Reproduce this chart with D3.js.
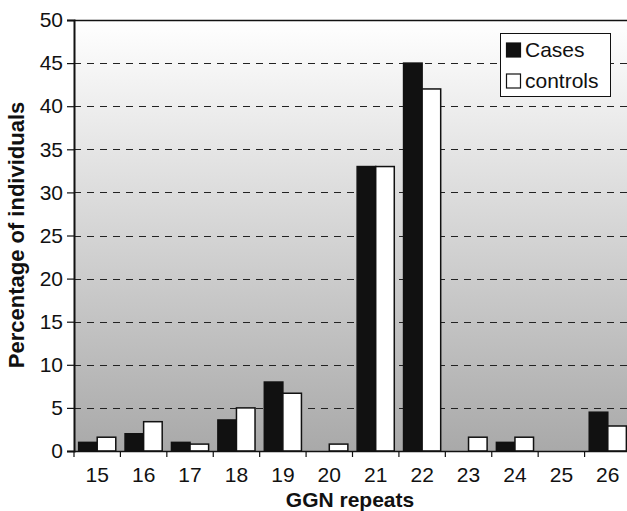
<!DOCTYPE html>
<html><head><meta charset="utf-8">
<script src="https://cdn.jsdelivr.net/npm/d3@7/dist/d3.min.js"></script>
<style>body{margin:0;background:#fff}svg{display:block}text{font-family:"Liberation Sans",Arial,sans-serif}</style>
</head><body>
<svg id="c" width="627" height="511"></svg>
<script>
const categories = ["15","16","17","18","19","20","21","22","23","24","25","26"];
const cases    = [1.0, 2.0, 1.0, 3.6, 8.0, 0, 33, 45, 0, 1.0, 0, 4.5];
const controls = [1.6, 3.4, 0.8, 5.0, 6.7, 0.8, 33, 42, 1.6, 1.6, 0, 2.9];
const seriesNames = ["Cases", "controls"];
const yTicks = [0,5,10,15,20,25,30,35,40,45,50];

(function(){
const svg = d3.select("#c");
const pL = 74, pR = 631, pT = 20, pB = 451;
const FS = 21;
const FF = "'Liberation Sans', Arial, sans-serif";
const x = d3.scaleBand().domain(categories).range([pL, pR]).paddingInner(0).paddingOuter(0);
const y = d3.scaleLinear().domain([0, 50]).range([pB, pT]);

const defs = svg.append("defs");
const g = defs.append("linearGradient").attr("id","bg").attr("x1",0).attr("y1",0).attr("x2",0).attr("y2",1);
g.append("stop").attr("offset","0%").attr("stop-color","#ffffff");
g.append("stop").attr("offset","100%").attr("stop-color","#a9a9a9");

svg.append("rect").attr("x",pL).attr("y",pT).attr("width",pR-pL).attr("height",pB-pT).attr("fill","url(#bg)");

// gridlines
svg.append("g").selectAll("line").data(yTicks.filter(d=>d>0 && d<50)).join("line")
  .attr("x1",pL).attr("x2",pR).attr("y1",d=>Math.round(y(d))+0.5).attr("y2",d=>Math.round(y(d))+0.5)
  .attr("stroke","#222").attr("stroke-width",1.2).attr("stroke-dasharray","7,6");

// top border
svg.append("line").attr("x1",pL).attr("x2",pR).attr("y1",pT+0.5).attr("y2",pT+0.5).attr("stroke","#111").attr("stroke-width",1.5);

// bars
const sub = d3.scaleBand().domain(seriesNames).range([0, x.bandwidth()]).paddingOuter(0.25).paddingInner(0);
const data = categories.map((c,i)=>({c, vals:[{s:"Cases",v:cases[i]},{s:"controls",v:controls[i]}]}));
const grp = svg.append("g").selectAll("g").data(data).join("g").attr("transform",d=>`translate(${x(d.c)},0)`);
grp.selectAll("rect").data(d=>d.vals.filter(v=>v.v>0)).join("rect")
  .attr("x",d=>sub(d.s)).attr("width",sub.bandwidth())
  .attr("y",d=>y(d.v)).attr("height",d=>y(0)-y(d.v))
  .attr("fill",d=>d.s==="Cases"?"#111":"#fff").attr("stroke","#111").attr("stroke-width",1.5);

// axes
const yAxis = d3.axisLeft(y).tickValues(yTicks).tickSize(7).tickPadding(4);
const ya = svg.append("g").attr("transform",`translate(${pL},0)`).call(yAxis);
ya.select(".domain").attr("stroke","#111").attr("stroke-width",2);
ya.selectAll(".tick line").attr("stroke","#111").attr("stroke-width",1.2);
ya.selectAll("text").attr("font-size",FS).attr("fill","#111").style("font-family",FF);

const xa = svg.append("g").attr("transform",`translate(0,${pB})`).call(d3.axisBottom(x).tickSize(0).tickPadding(16));
xa.select(".domain").attr("stroke","#111").attr("stroke-width",1.5);
xa.selectAll("text").attr("font-size",FS).attr("fill","#111").style("font-family",FF);
// boundary ticks
svg.append("g").selectAll("line").data(categories).join("line")
  .attr("x1",d=>x(d)).attr("x2",d=>x(d)).attr("y1",pB).attr("y2",pB+6)
  .attr("stroke","#111").attr("stroke-width",1.2);

// titles
svg.append("text").attr("x",350).attr("y",507).attr("text-anchor","middle").style("font-family",FF)
  .attr("font-size",FS).attr("font-weight","bold").attr("fill","#111").text("GGN repeats");
svg.append("text").attr("transform",`translate(24,235) rotate(-90)`).attr("text-anchor","middle").style("font-family",FF)
  .attr("font-size",22).attr("font-weight","bold").attr("fill","#111").text("Percentage of individuals");

// legend
const lg = svg.append("g").attr("transform","translate(500,33)");
lg.append("rect").attr("x",0.5).attr("y",0.5).attr("width",110).attr("height",63).attr("fill","#fff").attr("stroke","#111").attr("stroke-width",1);
seriesNames.forEach((s,i)=>{
  lg.append("rect").attr("x",6.5).attr("y",10+i*31).attr("width",14).attr("height",14)
    .attr("fill",i===0?"#111":"#fff").attr("stroke","#111").attr("stroke-width",1.2);
  lg.append("text").attr("x",25).attr("y",24+i*31).attr("font-size",FS).style("font-family",FF).attr("fill","#111").text(s);
});
})();
</script>
</body></html>
